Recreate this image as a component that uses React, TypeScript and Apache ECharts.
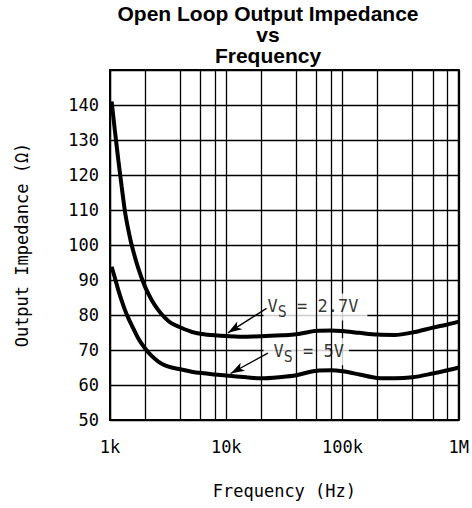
import React, { useEffect, useRef } from "react";
import * as echarts from "echarts";

const frequencies = [1033, 1104, 1179, 1260, 1346, 1438, 1536, 1752, 2000, 2282, 2604, 2972, 3391, 4000, 5037, 6144, 8000, 10000, 15000, 20000, 30000, 40000, 60000, 80000, 100000, 140000, 200000, 280000, 400000, 600000, 800000, 1000000];
const impedance27V = [141, 132.4, 124.3, 116.7, 109.5, 104.3, 100, 93.3, 88.1, 84.3, 81.4, 79.2, 77.6, 76.5, 75.2, 74.6, 74.2, 74.0, 73.8, 73.9, 74.2, 74.5, 75.5, 75.6, 75.4, 74.9, 74.4, 74.3, 75.0, 76.4, 77.3, 78.1];
const impedance5V = [93.8, 90.5, 87.1, 84.1, 81.4, 79.1, 77.1, 73.3, 70.5, 68.3, 66.7, 65.6, 65.0, 64.5, 63.8, 63.4, 63.0, 62.7, 62.2, 61.9, 62.3, 62.8, 64.1, 64.2, 63.9, 63.0, 62.0, 61.9, 62.2, 63.3, 64.2, 65.0];

const minorGridFrequencies = [2000, 4000, 6000, 8000, 20000, 40000, 60000, 80000, 200000, 400000, 600000, 800000];
const xTickValues = [1000, 10000, 100000, 1000000];
const xTickLabels = ["1k", "10k", "100k", "1M"];
const yTickValues = [50, 60, 70, 80, 90, 100, 110, 120, 130, 140];

const seriesNames = ["VS = 2.7V", "VS = 5V"];
const labelSupply = ["2.7V", "5V"];

// annotation anchors (data coordinates)
const labelAnchors = [[20700, 82.3], [20700, 69.5]];
const arrowStarts = [[22200, 81.9], [22800, 69.1]];
const arrowEnds = [[10340, 74.9], [10900, 63.3]];

const MONO = "'DejaVu Sans Mono', monospace";

export default function App() {
  const ref = useRef<HTMLDivElement>(null);
  useEffect(() => {
    if (!ref.current) return;
    const chart = echarts.init(ref.current, undefined, { renderer: "svg" });
    const tickMap: Record<string, string> = {};
    xTickValues.forEach((v, i) => (tickMap[String(v)] = xTickLabels[i]));
    const option: any = {
      animation: false,
      backgroundColor: "#fff",
      title: {
        text: "Open Loop Output Impedance\nvs\nFrequency",
        left: 268,
        top: 3,
        padding: 0,
        textAlign: "center",
        textStyle: {
          fontFamily: "'Liberation Sans', Arial, sans-serif",
          fontWeight: "bold",
          fontSize: 21,
          lineHeight: 21,
          color: "#000",
        },
      },
      grid: {
        left: 110,
        right: 13,
        top: 70,
        bottom: 88,
        show: true,
        borderColor: "#000",
        borderWidth: 2,
        backgroundColor: "transparent",
      },
      xAxis: {
        type: "log",
        logBase: 10,
        min: 1000,
        max: 1000000,
        name: "Frequency (Hz)",
        nameLocation: "middle",
        nameGap: 62,
        nameTextStyle: { fontFamily: MONO, fontSize: 17, color: "#000" },
        axisLine: { show: false },
        axisTick: { show: false },
        axisLabel: {
          margin: 18,
          fontFamily: MONO,
          fontSize: 17,
          color: "#000",
          formatter: (v: number) => tickMap[String(Math.round(v))] ?? "",
        },
        splitLine: { show: true, lineStyle: { color: "#000", width: 1.3 } },
      },
      yAxis: {
        type: "value",
        min: 50,
        max: 150,
        interval: 10,
        name: "Output Impedance (Ω)",
        nameLocation: "middle",
        nameGap: 80,
        nameTextStyle: { fontFamily: MONO, fontSize: 17, color: "#000" },
        axisLine: { show: false },
        axisTick: { show: false },
        axisLabel: {
          margin: 11,
          fontFamily: MONO,
          fontSize: 17,
          color: "#000",
          formatter: (v: number) => (yTickValues.includes(v) ? String(v) : ""),
        },
        splitLine: { show: true, lineStyle: { color: "#000", width: 1.3 } },
      },
      series: [
        {
          type: "line",
          name: "grid",
          data: [],
          z: 1,
          silent: true,
          markLine: {
            silent: true,
            symbol: ["none", "none"],
            label: { show: false },
            lineStyle: { color: "#000", width: 1.3, type: "solid" },
            data: minorGridFrequencies.map((f) => ({ xAxis: f })),
          },
        },
        {
          type: "scatter",
          name: "labels",
          z: 3,
          symbol: "circle",
          symbolSize: 1,
          itemStyle: { color: "rgba(0,0,0,0)" },
          silent: true,
          data: labelAnchors.map((p, i) => ({
            value: p,
            label: {
              show: true,
              position: "right",
              distance: 0,
              backgroundColor: "#fff",
              padding: i === 0 ? [4, 9, 3, 4] : [4, 5, 3, 10],
              formatter: `{a|V}{b|S}{a| = ${labelSupply[i]}}`,
              rich: {
                a: { fontFamily: MONO, fontSize: 17, color: "#000", lineHeight: 20, verticalAlign: "top" },
                b: { fontFamily: MONO, fontSize: 15, color: "#000", lineHeight: 20, verticalAlign: "top", padding: [7, 0, 0, 0] },
              },
            },
          })),
        },
        ...[impedance27V, impedance5V].map((vals, i) => ({
          type: "line",
          name: seriesNames[i],
          z: 4,
          smooth: 0.3,
          symbol: "none",
          lineStyle: { color: "#000", width: 4 },
          data: frequencies.map((f, j) => [f, vals[j]]),
          markLine: {
            silent: true,
            symbol: ["none", "arrow"],
            symbolSize: [7, 14],
            label: { show: false },
            lineStyle: { color: "#000", width: 1.3, type: "solid" },
            itemStyle: { color: "#000" },
            data: [[{ coord: arrowStarts[i] }, { coord: arrowEnds[i] }]],
          },
        })),
      ],
    };
    chart.setOption(option);
    return () => chart.dispose();
  }, []);
  return <div ref={ref} style={{ width: 472, height: 508, position: "fixed", left: 0, top: 0 }} />;
}
